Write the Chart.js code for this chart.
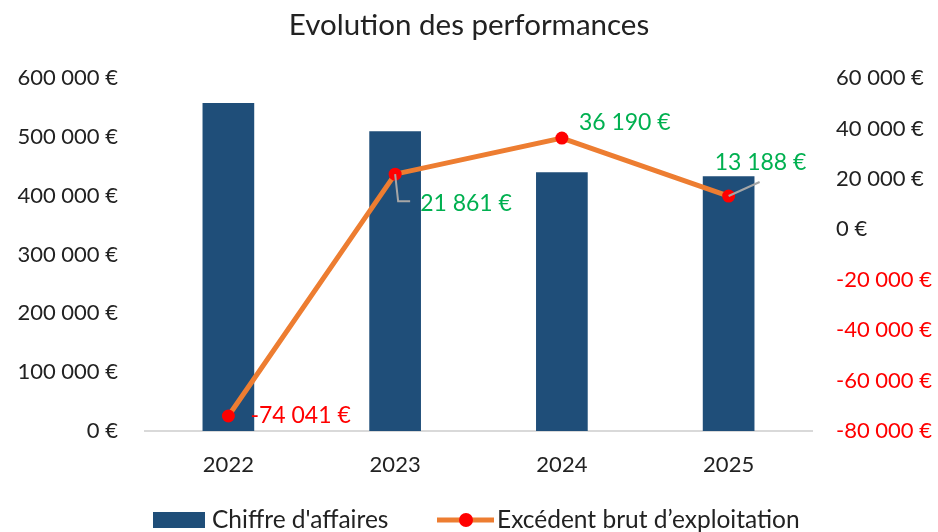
<!DOCTYPE html>
<html>
<head>
<meta charset="utf-8">
<script src="https://cdn.jsdelivr.net/npm/chart.js@4"></script>
<style>
  html, body { margin: 0; padding: 0; background: #fff; }
  #wrap { width: 938px; height: 532px; }
</style>
</head>
<body>
<div id="wrap"><canvas id="perfChart" width="938" height="532"></canvas></div>
<script>
const years = ['2022', '2023', '2024', '2025'];
const chiffreAffaires = [557500, 509500, 440000, 433000];
const ebe = [-74041, 21861, 36190, 13188];
const leftTicks = [0, 100000, 200000, 300000, 400000, 500000, 600000];
const rightTicks = [-80000, -60000, -40000, -20000, 0, 20000, 40000, 60000];

const FONT = 'Lato, "Noto Sans", sans-serif';
const TEXT = '#222222';

function euro(v) {
  const s = Math.round(Math.abs(v)).toString().replace(/\B(?=(\d{3})+(?!\d))/g, ' ');
  return (v < 0 ? '-' : '') + s + ' €';
}

// position des étiquettes autour des points (décalages en px)
const labelPos = [
  { dx: 22, dy: 0 },
  { dx: 25, dy: 29, leader: [[3, 27], [15, 27]] },
  { dx: 17, dy: -15 },
  { dx: -14, dy: -33, leader: [[31, -14]] }
];

const ebeLabels = {
  id: 'ebeLabels',
  afterDatasetsDraw(chart) {
    const ctx = chart.ctx;
    const meta = chart.getDatasetMeta(1);
    meta.data.forEach((pt, i) => {
      const o = labelPos[i];
      ctx.save();
      if (o.leader) {
        ctx.strokeStyle = '#a6a6a6';
        ctx.lineWidth = 2;
        ctx.beginPath();
        ctx.moveTo(pt.x, pt.y);
        o.leader.forEach(p => ctx.lineTo(pt.x + p[0], pt.y + p[1]));
        ctx.stroke();
      }
      ctx.font = '23px ' + FONT;
      ctx.fillStyle = ebe[i] < 0 ? '#FF0000' : '#00B050';
      ctx.textAlign = 'left';
      ctx.textBaseline = 'middle';
      ctx.fillText(euro(ebe[i]), pt.x + o.dx, pt.y + o.dy);
      ctx.restore();
    });
  }
};

// légende dessinée à la main (ligne + marqueur pour la série EBE)
const customLegend = {
  id: 'customLegend',
  afterDraw(chart) {
    const ctx = chart.ctx;
    const ds = chart.data.datasets;
    const y = 520;
    ctx.save();
    ctx.font = '24.5px ' + FONT;
    ctx.textBaseline = 'middle';
    ctx.textAlign = 'left';

    ctx.fillStyle = ds[0].backgroundColor;
    ctx.fillRect(153, y - 8, 52, 16);
    ctx.fillStyle = TEXT;
    ctx.fillText(ds[0].label, 212, y);

    ctx.strokeStyle = ds[1].borderColor;
    ctx.lineWidth = 5;
    ctx.beginPath();
    ctx.moveTo(437, y);
    ctx.lineTo(494, y);
    ctx.stroke();
    ctx.fillStyle = ds[1].pointBackgroundColor;
    ctx.beginPath();
    ctx.arc(466, y, 7, 0, Math.PI * 2);
    ctx.fill();
    ctx.fillStyle = TEXT;
    ctx.fillText(ds[1].label, 497, y);
    ctx.restore();
  }
};

new Chart(document.getElementById('perfChart').getContext('2d'), {
  data: {
    labels: years,
    datasets: [
      {
        type: 'bar',
        label: "Chiffre d'affaires",
        data: chiffreAffaires,
        yAxisID: 'y',
        backgroundColor: '#1F4E79',
        categoryPercentage: 1,
        barPercentage: 0.31,
        order: 1
      },
      {
        type: 'line',
        label: 'Excédent brut d’exploitation',
        data: ebe,
        yAxisID: 'y1',
        borderColor: '#ED7D31',
        borderWidth: 5,
        tension: 0,
        pointRadius: 6.5,
        pointHoverRadius: 6.5,
        pointBackgroundColor: '#FF0000',
        pointBorderWidth: 0,
        order: 0
      }
    ]
  },
  options: {
    responsive: false,
    animation: false,
    layout: { padding: { left: 0, right: 0, top: 0, bottom: 41 } },
    plugins: {
      legend: { display: false },
      tooltip: { enabled: false },
      title: {
        display: true,
        text: 'Evolution des performances',
        color: TEXT,
        font: { family: FONT, size: 29.5, weight: 'normal' },
        padding: { top: 7.3, bottom: 35.3 }
      }
    },
    scales: {
      x: {
        grid: { display: false, drawTicks: false },
        border: { display: true, color: '#D9D9D9', width: 2 },
        ticks: { color: TEXT, font: { family: FONT, size: 22 }, padding: 21 },
        afterFit(s) { s.height = 60; }
      },
      y: {
        position: 'left',
        min: 0,
        max: 600000,
        grid: { display: false, drawTicks: false },
        border: { display: false },
        afterBuildTicks(s) { s.ticks = leftTicks.map(v => ({ value: v })); },
        ticks: {
          color: TEXT,
          font: { family: FONT, size: 22 },
          padding: 27,
          callback: v => euro(v)
        },
        afterFit(s) { s.width = 145; }
      },
      y1: {
        position: 'right',
        min: -80000,
        max: 60000,
        grid: { display: false, drawTicks: false },
        border: { display: false },
        afterBuildTicks(s) { s.ticks = rightTicks.map(v => ({ value: v })); },
        ticks: {
          color: ctx => ctx.tick.value < 0 ? '#FF0000' : TEXT,
          font: { family: FONT, size: 22 },
          padding: 24,
          callback: v => euro(v)
        },
        afterFit(s) { s.width = 126; }
      }
    }
  },
  plugins: [ebeLabels, customLegend]
});
</script>
</body>
</html>
